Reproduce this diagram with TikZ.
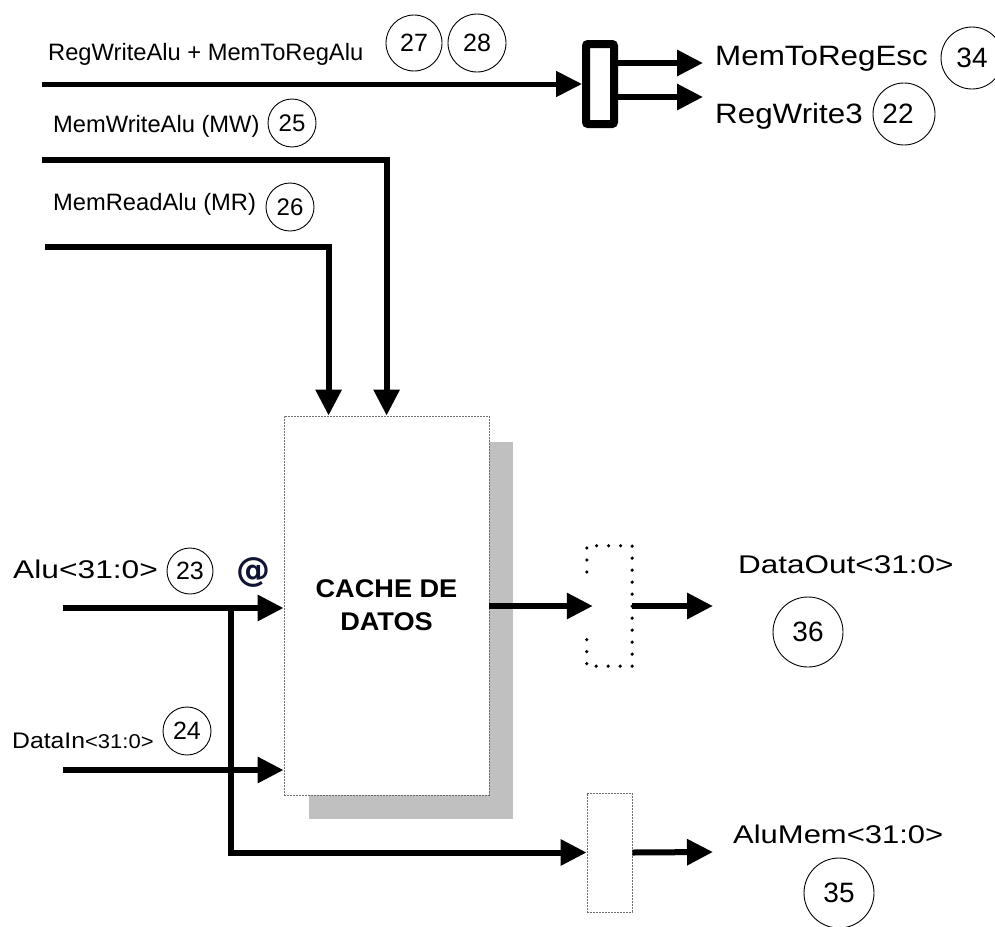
\documentclass[tikz,border=0pt]{standalone}
\usepackage{fontspec}
\setmainfont{Liberation Sans}
\newfontfamily\atfont{DejaVu Sans}
\usepackage{graphicx}
\usetikzlibrary{arrows.meta,calc}
\definecolor{shadowgray}{RGB}{192,192,192}
\definecolor{boxline}{RGB}{110,110,110}
\definecolor{atcol}{RGB}{15,20,50}
\newcommand\fsz[1]{\fontsize{#1}{#1}\selectfont}
\newcommand\wide[2]{\scalebox{#1}[1]{#2}}

\begin{document}
\begin{tikzpicture}[x=1pt,y=-1pt,
  sig/.style={line width=6pt,-{Triangle[length=26pt,width=25pt]}},
  lbl/.style={anchor=base west,inner sep=0pt,text=black},
  numc/.style={draw,circle,line width=0.9pt,inner sep=0pt,minimum size=#1},
  dotbox/.style={line width=3.6pt,line cap=round,dash pattern=on 0pt off 12pt},
  thinbox/.style={draw=boxline,line width=0.8pt,dash pattern=on 2pt off 1pt,inner sep=0pt},
 ]
\useasboundingbox[fill=white] (0,0) rectangle (995,926);

% control signals on top
\node[lbl] (tRegAlu) at (48,60) {\fsz{23.7}RegWriteAlu + MemToRegAlu};
\node[numc=56pt] (c27) at (414,43) {\fsz{25}27};
\node[numc=58pt] (c28) at (477,43) {\fsz{25}28};
\node[lbl] (tMW) at (53,132) {\fsz{23.7}MemWriteAlu (MW)};
\node[numc=48pt] (c25) at (292,123) {\fsz{24}25};
\node[lbl] (tMR) at (53,210) {\fsz{23.7}MemReadAlu (MR)};
\node[numc=48pt] (c26) at (290,207) {\fsz{24}\raisebox{-3pt}{26}};

% pipeline register for the write-back control bits
\node[draw,line width=8pt,rounded corners=2pt,minimum width=28pt,minimum height=80pt,inner sep=0pt] (mux0) at (600,84) {};
\coordinate (rwin) at (42,84);
\draw[sig,line width=5pt] (rwin) -- (mux0.west);
\coordinate (oEsc) at (703,63);
\coordinate (oRW) at (703,97);
\draw[sig] ([yshift=21pt]mux0.east) -- (oEsc);
\draw[sig] ([yshift=-13pt]mux0.east) -- (oRW);
\node[lbl] (tEsc) at (715,65) {\fsz{28}\wide{1.12}{MemToRegEsc}};
\node[numc=62pt] (c34) at (972,58) {\fsz{28}34};
\node[lbl] (tRW3) at (715,123) {\fsz{28}\wide{1.12}{RegWrite3}};
\node[numc=62pt] (c22) at (904,114) {\fsz{28}\hspace*{-12pt}22};

% data cache with its shadow
\fill[shadowgray] (309,442) rectangle (513,819);
\node[thinbox,fill=white,minimum width=205pt,minimum height=379pt,align=center,
      font={\fontsize{25.6}{33}\selectfont\bfseries}] (cache) at (386.5,605.5)
      {\wide{1.06}{CACHE DE}\\\wide{1.06}{DATOS}};

\coordinate (mwin) at (42,160);
\draw[sig] (mwin) -| ([xshift=103pt]cache.north west);
\coordinate (mrin) at (45,247);
\draw[sig] (mrin) -| ([xshift=45pt]cache.north west);

% address input
\node[lbl] (tAlu) at (13,578) {\fsz{25.6}\wide{1.24}{Alu<31:0>}};
\node[numc=46pt] (c23) at (190,571) {\fsz{25}23};
\node[lbl,text=atcol] (tAt) at (236,581) {\atfont\bfseries\fsz{34}@};
\coordinate (aluin) at (63,608);
\draw[sig] (aluin) -- (aluin -| cache.west);

% data input
\node[lbl] (tDin) at (12,748) {\wide{1.1}{\fsz{22.5}DataIn\fsz{20}<31:0>}};
\node[numc=48pt] (c24) at (187,731) {\fsz{25}24};
\coordinate (dinin) at (63,770);
\draw[sig] (dinin) -- (dinin -| cache.west);

% data output register
\node[minimum width=45pt,minimum height=120pt,inner sep=0pt] (mux1) at (609.5,606) {};
\draw[dotbox] ([yshift=34pt]mux1.west) -- (mux1.north west) -- (mux1.north east)
  -- (mux1.south east) -- (mux1.south west) -- ([yshift=-26pt]mux1.west);
\draw[sig] (cache.east |- mux1.west) -- ([xshift=6pt]mux1.west);
\coordinate (oDout) at (713,606);
\draw[sig] (mux1.east) -- (oDout);
\node[lbl] (tDout) at (738,573) {\fsz{25.6}\wide{1.23}{DataOut<31:0>}};
\node[numc=70pt] (c36) at (808,632) {\fsz{28}36};

% ALU result bypass register
\node[thinbox,minimum width=45pt,minimum height=119pt] (mem2) at (609.5,852.5) {};
\coordinate (br) at (231,608);
\draw[sig] (br) |- (mem2.west);
\coordinate (oAluMem) at (713,852);
\draw[sig] (mem2.east) -- (oAluMem);
\node[lbl] (tAluMem) at (733,843) {\fsz{25.6}\wide{1.21}{AluMem<31:0>}};
\node[numc=70pt] (c35) at (839,893) {\fsz{28}35};
\end{tikzpicture}
\end{document}
